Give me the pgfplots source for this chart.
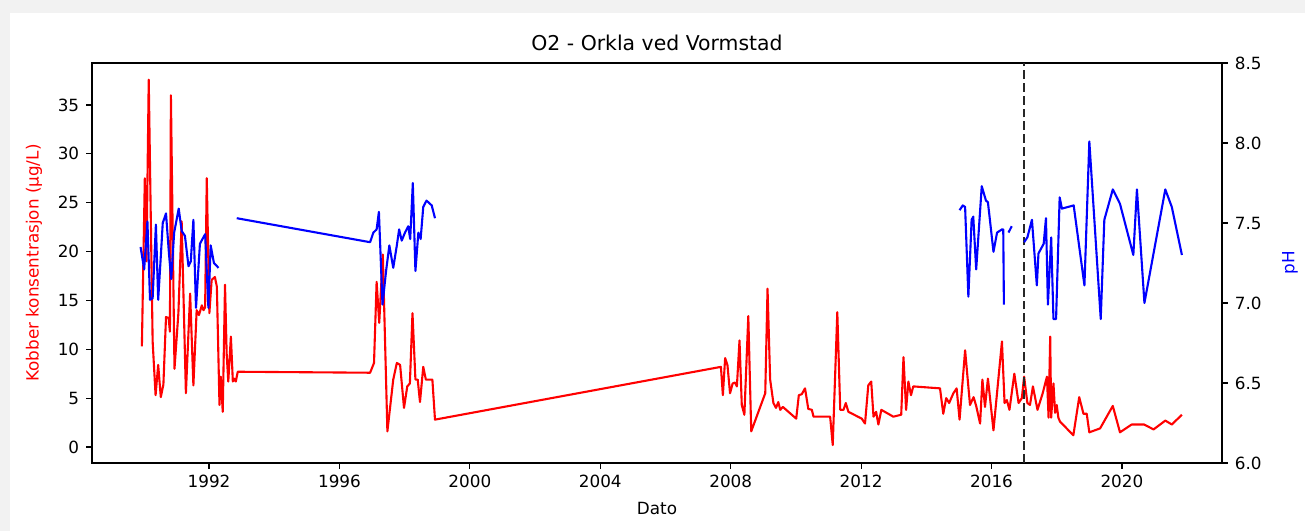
\documentclass[border=0pt]{standalone}
\usepackage{pgfplots}
\pgfplotsset{compat=1.18}
\usepackage{fontspec}
\setmainfont{DejaVu Sans}
\definecolor{bggray}{RGB}{242,242,242}
\definecolor{mplred}{RGB}{255,0,0}
\definecolor{mplblue}{RGB}{0,0,255}
\begin{document}
\begin{tikzpicture}
\fill[bggray] (-46pt,-34pt) rectangle (606.5pt,231.5pt);
\fill[white] (-41pt,-34pt) rectangle (606.5pt,225pt);
\pgfplotsset{
  common/.style={
    at={(0pt,0pt)}, anchor=south west,
    width=565pt, height=200pt, scale only axis,
    xmin=1988.41, xmax=2023.07,
    tick align=outside,
    major tick length=2.9pt,
    every tick/.style={black, line width=0.6pt},
    axis line style={line width=0.65pt},
    tick label style={font=\fontsize{8.4}{9}\selectfont},
    xticklabel style={yshift=0.5pt},
    /pgf/number format/assume math mode=true,
    unbounded coords=jump,
  }
}
\begin{axis}[common,
  ymin=-1.64, ymax=39.3,
  ytick={0,5,10,15,20,25,30,35},
  xtick={1992,1996,2000,2004,2008,2012,2016,2020},
  xticklabel style={/pgf/number format/1000 sep={}},
  xtick pos=bottom, ytick pos=left,
]
\addplot[mplred, line width=1.05pt, line join=round] coordinates {
(1989.94,10.3) (1990.03,27.5) (1990.08,19.0) (1990.15,37.6) (1990.27,10.8)
(1990.36,5.3) (1990.44,8.4) (1990.52,5.1) (1990.60,6.4) (1990.68,13.3)
(1990.76,13.2) (1990.80,11.8) (1990.83,36.0) (1990.94,8.0) (1991.06,13.7)
(1991.16,23.1) (1991.29,5.5) (1991.42,15.7) (1991.52,6.3) (1991.62,14.0)
(1991.69,13.5) (1991.78,14.5) (1991.83,14.0) (1991.88,14.3) (1991.93,27.5)
(1992.01,13.7) (1992.08,17.1) (1992.18,17.4) (1992.24,16.4) (1992.32,4.3)
(1992.36,7.2) (1992.42,3.6) (1992.49,16.6) (1992.54,9.6) (1992.59,6.7)
(1992.67,11.3) (1992.73,6.7) (1992.77,7.0) (1992.82,6.7) (1992.88,7.7)
(1996.94,7.6) (1997.06,8.6) (1997.14,16.9) (1997.22,12.7) (1997.33,19.7)
(1997.47,1.6) (1997.65,6.9) (1997.76,8.6) (1997.86,8.4) (1997.98,4.0)
(1998.08,6.2) (1998.16,6.5) (1998.24,13.7) (1998.33,6.9) (1998.40,6.9)
(1998.47,4.6) (1998.57,8.2) (1998.65,6.9) (1998.73,6.9) (1998.85,6.9)
(1998.93,2.8)
(2007.70,8.2) (2007.76,5.3) (2007.83,9.1) (2007.90,8.4) (2007.98,5.5)
(2008.06,6.5) (2008.13,6.6) (2008.19,6.2) (2008.27,10.9) (2008.34,4.3)
(2008.42,3.3) (2008.54,13.4) (2008.63,1.6) (2009.06,5.5) (2009.13,16.2)
(2009.21,6.9) (2009.31,4.5) (2009.39,4.0) (2009.46,4.6) (2009.52,3.8)
(2009.60,4.1) (2010.01,2.9) (2010.09,5.3) (2010.18,5.4) (2010.28,6.0)
(2010.38,3.9) (2010.49,3.8) (2010.54,3.1) (2011.05,3.1) (2011.13,0.2)
(2011.27,13.8) (2011.36,3.8) (2011.46,3.8) (2011.53,4.5) (2011.61,3.6)
(2012.02,2.9) (2012.12,2.4) (2012.22,6.3) (2012.31,6.7) (2012.38,3.1)
(2012.46,3.6) (2012.53,2.3) (2012.62,3.8) (2012.99,3.1) (2013.11,3.2)
(2013.23,3.3) (2013.30,9.2) (2013.38,3.8) (2013.45,6.7) (2013.53,5.3)
(2013.60,6.2) (2014.42,6.0) (2014.52,3.4) (2014.61,5.0) (2014.70,4.5)
(2014.83,5.5) (2014.93,6.0) (2015.02,2.8) (2015.19,9.9) (2015.34,4.3)
(2015.45,5.1) (2015.53,4.2) (2015.65,2.4) (2015.72,6.9) (2015.80,4.1)
(2015.89,7.0) (2016.06,1.7) (2016.32,10.8) (2016.40,4.5) (2016.47,4.8)
(2016.55,3.8) (2016.70,7.5) (2016.83,4.5) (2016.93,5.0) (2017.00,7.2)
(2017.10,4.5) (2017.18,4.3) (2017.27,6.2) (2017.41,3.8) (2017.57,5.5)
(2017.70,7.2) (2017.75,3.0) (2017.80,11.3) (2017.83,3.0) (2017.90,6.5)
(2017.95,3.5) (2018.00,4.3) (2018.05,3.0) (2018.10,2.6) (2018.51,1.2)
(2018.69,5.1) (2018.82,3.4) (2018.92,3.4) (2019.00,1.5) (2019.33,1.9)
(2019.72,4.2) (2019.94,1.5) (2020.30,2.3) (2020.68,2.3) (2020.97,1.8)
(2021.33,2.7) (2021.53,2.3) (2021.84,3.3)
};
\addplot[black!85, line width=1.05pt, dash pattern=on 4.4pt off 2pt] coordinates {(2017.0,-1.64) (2017.0,39.3)};
\end{axis}
\begin{axis}[common,
  ymin=6.0, ymax=8.5,
  ytick={6.0,6.5,7.0,7.5,8.0,8.5},
  yticklabel style={/pgf/number format/.cd, fixed, fixed zerofill, precision=1},
  axis x line=none,
  axis y line*=right,
  ytick pos=right,
]
\addplot[mplblue, line width=1.05pt, line join=round] coordinates {
(1989.90,7.35) (1990.01,7.21) (1990.11,7.51) (1990.19,7.02) (1990.27,7.03)
(1990.37,7.49) (1990.44,7.02) (1990.52,7.29) (1990.58,7.50) (1990.68,7.56)
(1990.77,7.31) (1990.84,7.15) (1990.93,7.44) (1991.07,7.59) (1991.16,7.45)
(1991.26,7.42) (1991.37,7.23) (1991.44,7.26) (1991.52,7.52) (1991.60,6.97)
(1991.72,7.37) (1991.88,7.43) (1991.98,6.97) (1992.05,7.36) (1992.15,7.25)
(1992.29,7.22) (1992.5,nan)
(1992.85,7.53) (1996.94,7.38) (1997.04,7.44) (1997.14,7.46) (1997.21,7.57)
(1997.32,6.99) (1997.43,7.20) (1997.53,7.36) (1997.65,7.22) (1997.76,7.36)
(1997.83,7.46) (1997.91,7.39) (1998.01,7.44) (1998.11,7.48) (1998.17,7.40)
(1998.25,7.75) (1998.33,7.20) (1998.42,7.44) (1998.49,7.40) (1998.57,7.60)
(1998.67,7.64) (1998.83,7.61) (1998.93,7.53) (2005.0,nan)
(2015.02,7.58) (2015.12,7.61) (2015.19,7.60) (2015.29,7.04) (2015.39,7.52)
(2015.44,7.54) (2015.53,7.21) (2015.70,7.73) (2015.83,7.64) (2015.89,7.63)
(2016.06,7.32) (2016.17,7.44) (2016.32,7.46) (2016.36,7.46) (2016.38,6.99)
(2016.45,nan)
(2016.52,7.44) (2016.62,7.48) (2016.8,nan)
(2017.00,7.38) (2017.10,7.41) (2017.24,7.52) (2017.39,7.11) (2017.44,7.31)
(2017.60,7.37) (2017.67,7.53) (2017.73,6.99) (2017.83,7.41) (2017.90,6.90)
(2017.98,6.90) (2018.09,7.66) (2018.16,7.59) (2018.52,7.61) (2018.85,7.11)
(2019.00,8.01) (2019.35,6.90) (2019.46,7.52) (2019.72,7.71) (2019.94,7.62)
(2020.35,7.30) (2020.46,7.71) (2020.69,7.00) (2021.33,7.71) (2021.53,7.60)
(2021.84,7.30)
};
\end{axis}
\node[font=\fontsize{10.2}{12}\selectfont] at (282.5pt,210pt) {O2 - Orkla ved Vormstad};
\node[font=\fontsize{8.4}{9}\selectfont] at (282.5pt,-22.5pt) {Dato};
\node[font=\fontsize{8.4}{9}\selectfont, text=mplred, rotate=90] at (-29pt,100pt) {Kobber konsentrasjon (µg/L)};
\node[font=\fontsize{8.4}{9}\selectfont, text=mplblue, rotate=90] at (599pt,100pt) {pH};
\end{tikzpicture}
\end{document}
